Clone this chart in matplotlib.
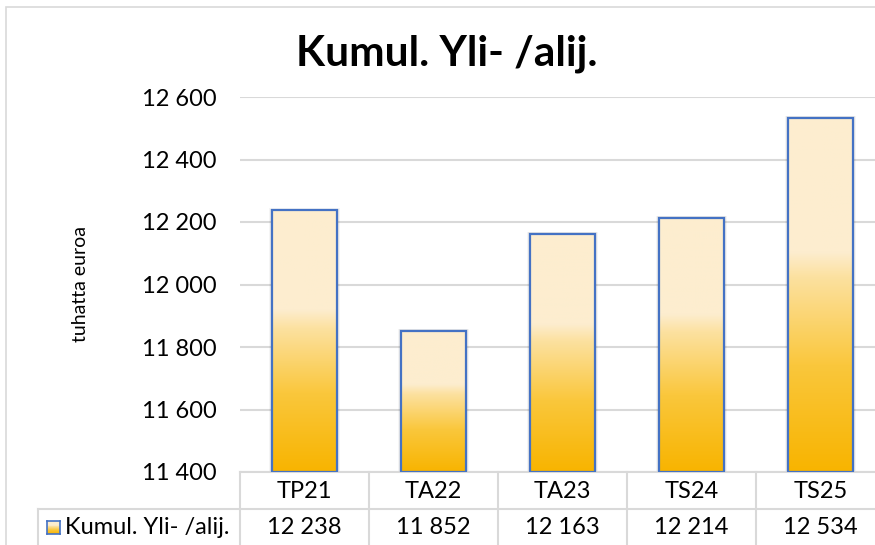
import matplotlib.pyplot as plt
import numpy as np
from matplotlib.colors import LinearSegmentedColormap
from matplotlib.patches import Rectangle

# data
categories = ['TP21', 'TA22', 'TA23', 'TS24', 'TS25']
values = [12238, 11852, 12163, 12214, 12534]
series_name = 'Kumul. Yli- /alij.'
y_ticks = [11400, 11600, 11800, 12000, 12200, 12400, 12600]

plt.rcParams['font.family'] = ['Lato', 'DejaVu Sans']

W, H = 875, 545
fig = plt.figure(figsize=(W / 100, H / 100), dpi=100)

def fx(px):
    return px / W

def fy(py):
    return 1 - py / H

# outer chart border
fig.add_artist(Rectangle((fx(6), fy(560)), fx(900), 553 / H, transform=fig.transFigure,
                         fill=False, edgecolor='#D9D9D9', linewidth=1.2))

ax = fig.add_axes([fx(240), fy(472), fx(645), 375 / H])
ax.set_xlim(-0.5, len(categories) - 0.5)
ax.set_ylim(11400, 12600)

# vertical gradient: orange at bottom, cream on top part
grad_cmap = LinearSegmentedColormap.from_list(
    'bar', [(0.0, '#F8B400'), (0.3, '#FAC73C'), (0.55, '#FCE1A0'), (0.62, '#FDEDCF'), (1.0, '#FDEECF')])
grad = np.linspace(0, 1, 256).reshape(-1, 1)

bw = 0.5
for i, v in enumerate(values):
    x0 = i - bw / 2
    # soft shadow
    for k, a in zip([0.05, 0.035, 0.02], [0.04, 0.06, 0.08]):
        ax.add_patch(Rectangle((x0 - k / 2, 11400), bw + k, v - 11400 + k * 120,
                               facecolor='black', alpha=a, edgecolor='none', zorder=2))
    ax.imshow(grad, extent=[x0, x0 + bw, 11400, v], origin='lower', aspect='auto',
              cmap=grad_cmap, zorder=3)
    ax.add_patch(Rectangle((x0, 11400), bw, v - 11400, fill=False,
                           edgecolor='#4472C4', linewidth=1.6, zorder=4))

ax.set_yticks(y_ticks)
ax.set_yticklabels([f'{t:,}'.replace(',', ' ') for t in y_ticks], fontsize=17)
ax.tick_params(axis='y', length=0, pad=17)
ax.set_xticks([])
ax.grid(axis='y', color='#D9D9D9', linewidth=1.5, zorder=0)
ax.set_axisbelow(True)
for s in ['top', 'right', 'left']:
    ax.spines[s].set_visible(False)
ax.spines['bottom'].set_color('#D9D9D9')
ax.spines['bottom'].set_linewidth(1.5)

ax.set_ylabel('tuhatta euroa', fontsize=14, labelpad=38)

fig.text(fx(447), fy(54), series_name, ha='center', va='center',
         fontsize=30.5, fontweight='bold')

# data table below the plot
line_kw = dict(color='#D9D9D9', linewidth=1.5, transform=fig.transFigure)
col_w = 129
for j in range(len(categories) + 1):
    xp = 240 + j * col_w
    fig.add_artist(plt.Line2D([fx(xp), fx(xp)], [fy(472), fy(550)], **line_kw))
fig.add_artist(plt.Line2D([fx(38), fx(38)], [fy(509), fy(550)], **line_kw))
fig.add_artist(plt.Line2D([fx(38), fx(900)], [fy(509), fy(509)], **line_kw))

for j, (c, v) in enumerate(zip(categories, values)):
    xc = 240 + j * col_w + col_w / 2
    fig.text(fx(xc), fy(491), c, ha='center', va='center', fontsize=17)
    fig.text(fx(xc), fy(528), f'{v:,}'.replace(',', ' '), ha='center', va='center', fontsize=17)

# legend key in the table
kax = fig.add_axes([fx(47), fy(534), fx(13), 13 / H])
kax.imshow(grad, extent=[0, 1, 0, 1], origin='lower', aspect='auto', cmap=grad_cmap)
kax.set_xticks([])
kax.set_yticks([])
for s in kax.spines.values():
    s.set_color('#4472C4')
    s.set_linewidth(1.2)
fig.text(fx(65), fy(528), series_name, ha='left', va='center', fontsize=17)

fig.savefig('out.png', dpi=100)
